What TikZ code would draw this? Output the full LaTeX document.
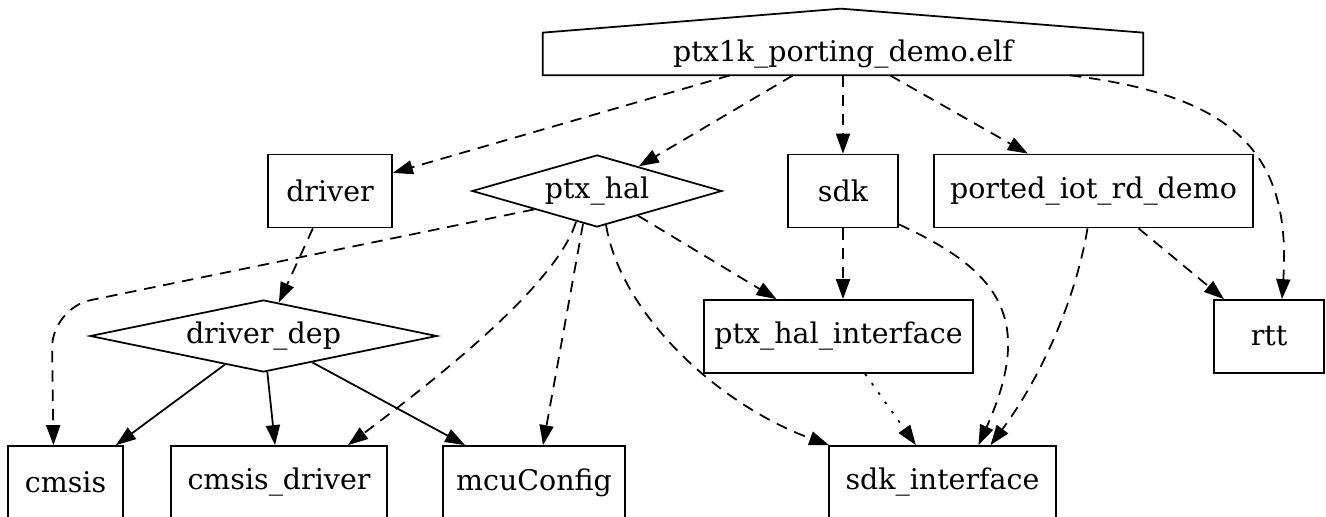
\documentclass[tikz,border=0pt]{standalone}
\usepackage{fontspec}
\setmainfont{DejaVu Serif}
\usetikzlibrary{shapes.geometric,arrows.meta,calc}

\begin{document}
\begin{tikzpicture}[x=0.02cm,y=-0.02cm,
    font=\fontsize{16.2}{18}\selectfont,
    box/.style={draw,line width=1pt,minimum height=1.46cm,inner sep=0pt},
    dia/.style={draw,diamond,line width=1pt,inner sep=0pt,minimum height=1.44cm},
    dep/.style={-{Triangle[length=0.4cm,width=0.28cm]},line width=1pt,dash pattern=on 6.5pt off 4.5pt},
    dotdep/.style={dep,dash pattern=on 1.5pt off 5pt},
    link/.style={-{Triangle[length=0.4cm,width=0.28cm]},line width=1pt}]
            \useasboundingbox (0,0) rectangle (1326,517);

            % Draw the target (house shape)
            \node[minimum width=12cm,minimum height=0.84cm,inner sep=0pt] (elf) at (843,54) {ptx1k\_porting\_demo.elf};
            \draw[line width=1pt] (elf.south west) -- (elf.north west) -- ($(elf.north)+(-2,-24)$)
                -- (elf.north east) -- (elf.south east) -- cycle;

            % Draw the libraries
            \node[box,minimum width=2.48cm] (driver) at (330,191) {driver};
            \node[dia,minimum width=5cm,aspect=3.5] (hal) at (597,191) {ptx\_hal};
            \node[box,minimum width=2.2cm] (sdk) at (843,191) {sdk};
            \node[box,minimum width=6.38cm] (ported) at (1093.5,191) {ported\_iot\_rd\_demo};

            \node[dia,minimum width=6.94cm,aspect=4.8] (ddep) at (263.5,336) {driver\_dep};
            \node[box,minimum width=5.38cm] (halif) at (838.5,336.5) {ptx\_hal\_interface};
            \node[box,minimum width=2.2cm] (rtt) at (1269,336.5) {rtt};

            \node[box,minimum width=2.3cm] (cmsis) at (65.5,482.5) {cmsis};
            \node[box,minimum width=4.32cm] (cdrv) at (279,482.5) {cmsis\_driver};
            \node[box,minimum width=3.64cm] (mcu) at (534,482.5) {mcuConfig};
            \node[box,minimum width=4.54cm] (sdkif) at (942.5,482.5) {sdk\_interface};

            % Draw edges from the target
            \draw[dep] ($(elf.south)+(-113,0)$) -- (driver);
            \draw[dep] ($(elf.south)+(-50,0)$) -- (hal);
            \draw[dep] (elf) -- (sdk);
            \draw[dep] ($(elf.south)+(47,0)$) -- (ported);
            \draw[dep] ($(elf.south)+(227,0)$) .. controls +(160,20) and +(10,-150) .. ($(rtt.north)+(13,0)$);

            % Draw edges from ptx_hal
            \draw[dep,rounded corners=0.8cm] (hal.south west) -- ($(cmsis.north)+(-14,-137)$) -- ($(cmsis.north)+(-12,0)$);
            \draw[dep] ($(hal.south)+(-21,-6)$) .. controls +(-20,65) and +(80,-60) .. ($(cdrv.north)+(69,0)$);
            \draw[dep] ($(hal.south)+(-14,-4)$) -- ($(mcu.north)+(9,0)$);
            \draw[dep] ($(hal.south)+(9,-3)$) .. controls +(15,90) and +(-110,-40) .. ($(sdkif.north west)+(1,0)$);
            \draw[dep] (hal) -- (halif);

            % Draw edges from sdk and ported_iot_rd_demo
            \draw[dep] (sdk) -- (sdk |- halif.north);
            \draw[dep] ($(sdk.south east)+(0,-4)$) .. controls +(100,46) and +(57,-127) .. ($(sdkif.north)+(36,0)$);
            \draw[dep] ($(ported.south)+(-6,0)$) .. controls +(-12,72) and +(50,-67) .. ($(sdkif.north)+(48,0)$);
            \draw[dep] (ported) -- (rtt);
            \draw[dotdep] (halif) -- (sdkif);

            % Draw edges from driver
            \draw[dep] (driver) -- (ddep);
            \draw[link] (ddep) -- (cmsis);
            \draw[link] (ddep) -- (cdrv);
            \draw[link] (ddep) -- (mcu);
        \end{tikzpicture}
\end{document}
